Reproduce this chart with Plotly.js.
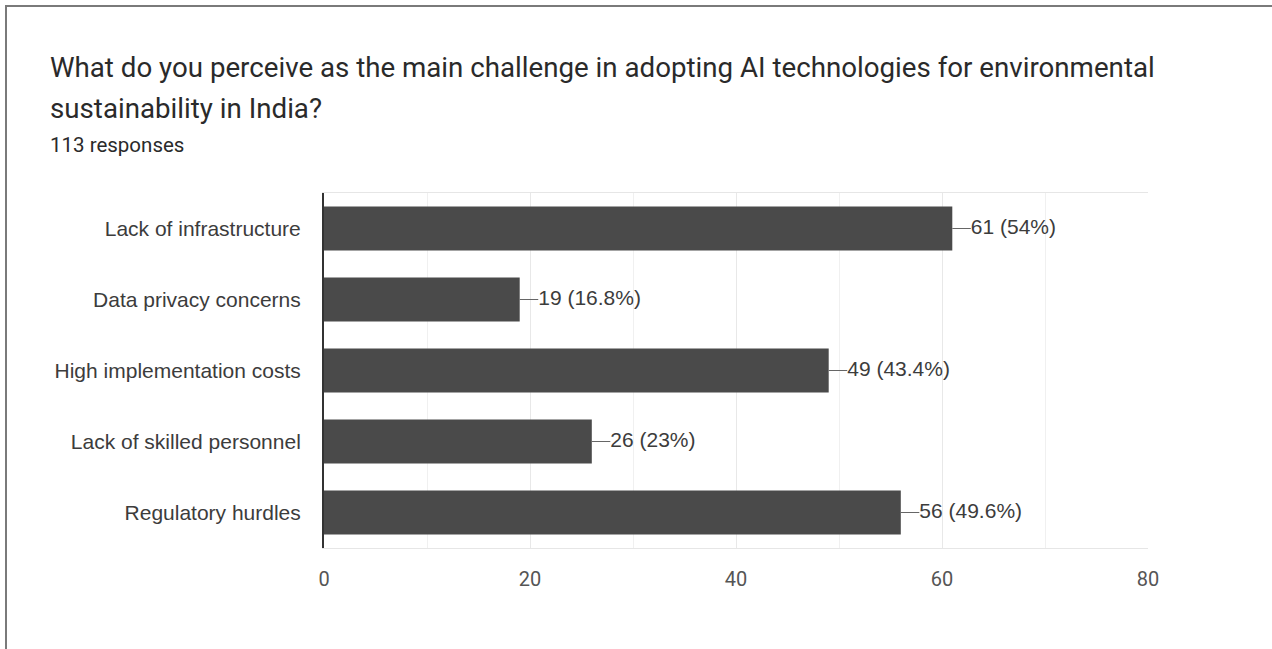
<!DOCTYPE html>
<html>
<head>
<meta charset="utf-8">
<script src="https://cdn.plot.ly/plotly-3.0.1.min.js"></script>
<style>
  html, body { margin: 0; padding: 0; background: #fff; }
  #frame { position: absolute; left: 5px; top: 5px; width: 1267px; height: 644px;
           border-top: 2px solid #7a7a7a; border-left: 2px solid #7a7a7a; box-sizing: border-box; pointer-events: none; z-index: 5; }
  #chart { position: absolute; left: 0; top: 0; width: 1272px; height: 649px; }
</style>
</head>
<body>
<div id="chart"></div>
<div id="frame"></div>
<script>
const titleLine1 = "What do you perceive as the main challenge in adopting AI technologies for environmental";
const titleLine2 = "sustainability in India?";
const subtitle = "113 responses";
const categories = ["Lack of infrastructure", "Data privacy concerns", "High implementation costs", "Lack of skilled personnel", "Regulatory hurdles"];
const counts = [61, 19, 49, 26, 56];
const percents = ["54%", "16.8%", "43.4%", "23%", "49.6%"];
const xTicks = [0, 20, 40, 60, 80];

const leaderLen = 1.8;
const lx = [], ly = [];
counts.forEach((v, i) => { lx.push(v, v + leaderLen, null); ly.push(categories[i], categories[i], null); });

const labelTexts = counts.map((v, i) => v + " (" + percents[i] + ")");

const data = [
  { type: "bar", orientation: "h", x: counts, y: categories, width: 0.62,
    marker: { color: "#4a4a4a", line: { width: 0 } }, hoverinfo: "skip" },
  { type: "scatter", mode: "lines", x: lx, y: ly, line: { color: "#666", width: 1 }, hoverinfo: "skip" },
  { type: "scatter", mode: "text", x: counts.map(v => v + leaderLen), y: categories, text: labelTexts,
    textposition: "middle right", textfont: { family: "Liberation Sans, Arial, sans-serif", size: 21, color: "#3c3c3c" }, hoverinfo: "skip", cliponaxis: false }
];

const L = 324, R = 1148, T = 193, B = 548;
const W = 1272, H = 649;
function px2x(px) { return (px - L) / (R - L); }
function py2y(py) { return (B - py) / (B - T); }

const layout = {
  width: W, height: H,
  margin: { l: L, r: W - R, t: T, b: H - B, pad: 0 },
  paper_bgcolor: "#fff", plot_bgcolor: "#fff",
  showlegend: false,
  xaxis: {
    range: [0, 80], tickvals: xTicks, ticktext: xTicks.map(String),
    showgrid: true, gridcolor: "#e8e8e8", gridwidth: 1,
    minor: { dtick: 10, showgrid: true, gridcolor: "#f0f0f0", gridwidth: 1 },
    zeroline: false, showline: true, linecolor: "#e6e6e6", linewidth: 1, mirror: true,
    ticks: "outside", ticklen: 13, tickcolor: "rgba(0,0,0,0)",
    tickfont: { family: "Roboto, Liberation Sans, sans-serif", size: 20, color: "#555" },
    fixedrange: true
  },
  yaxis: {
    autorange: "reversed", type: "category",
    showgrid: false, zeroline: false,
    showline: true, linecolor: "#333", linewidth: 2,
    ticks: "outside", ticklen: 17, tickcolor: "rgba(0,0,0,0)",
    tickfont: { family: "Liberation Sans, Arial, sans-serif", size: 21, color: "#3c3c3c" },
    fixedrange: true
  },
  annotations: [
    { text: titleLine1, xref: "paper", yref: "paper", x: px2x(48), y: py2y(67), xanchor: "left", yanchor: "middle",
      showarrow: false, font: { family: "Roboto, sans-serif", size: 27.7, color: "#2a2a2a" } },
    { text: titleLine2, xref: "paper", yref: "paper", x: px2x(48), y: py2y(108), xanchor: "left", yanchor: "middle",
      showarrow: false, font: { family: "Roboto, sans-serif", size: 27.7, color: "#2a2a2a" } },
    { text: subtitle, xref: "paper", yref: "paper", x: px2x(48), y: py2y(145), xanchor: "left", yanchor: "middle",
      showarrow: false, font: { family: "Roboto, sans-serif", size: 20.5, color: "#2a2a2a" } }
  ]
};

Plotly.newPlot("chart", data, layout, { staticPlot: true, displayModeBar: false });
</script>
</body>
</html>
